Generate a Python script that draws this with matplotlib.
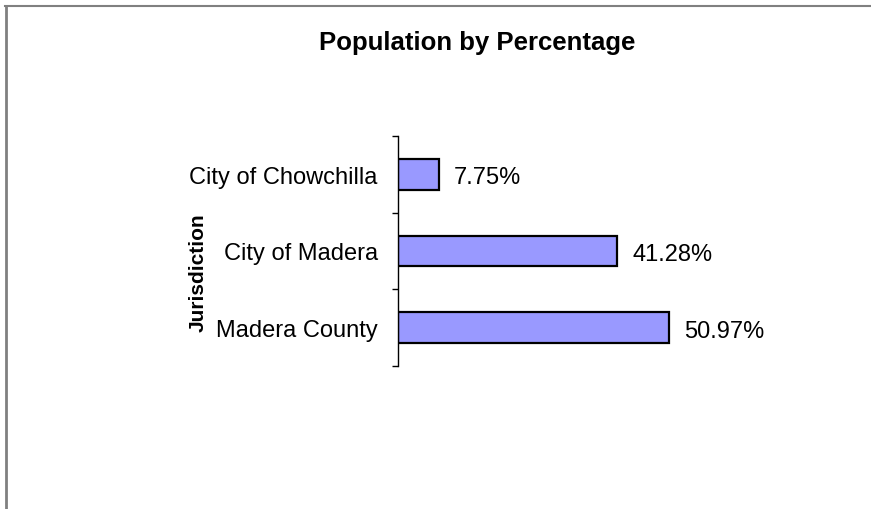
import matplotlib.pyplot as plt
from matplotlib.lines import Line2D

plt.rcParams['font.family'] = ['Liberation Sans', 'DejaVu Sans']

# data (bottom to top as drawn)
jurisdictions = ['Madera County', 'City of Madera', 'City of Chowchilla']
percentages = [50.97, 41.28, 7.75]
value_labels = ['50.97%', '41.28%', '7.75%']

fig = plt.figure(figsize=(8.71, 5.10), dpi=100)
ax = fig.add_axes([398 / 871, 1 - 367 / 510, (717 - 398) / 871, (367 - 137) / 510])

pos = list(range(len(jurisdictions)))
bars = ax.barh(pos, percentages, height=0.4, color='#9999FF',
               edgecolor='black', linewidth=1.6)

ax.set_xlim(0, 60)
ax.set_ylim(-0.5, len(jurisdictions) - 0.5)

# category labels at centres, tick marks at category boundaries
ax.set_yticks(pos)
ax.set_yticklabels(jurisdictions, fontsize=17)
ax.tick_params(axis='y', which='major', length=0, pad=14.5)
ax.set_yticks([p - 0.5 for p in pos] + [pos[-1] + 0.5], minor=True)
ax.tick_params(axis='y', which='minor', length=4.5, width=1, color='black')

ax.set_xticks([])
for side in ['top', 'right', 'bottom']:
    ax.spines[side].set_visible(False)
ax.spines['left'].set_linewidth(1)

# value labels
for bar, lab in zip(bars, value_labels):
    ax.annotate(lab, (bar.get_width(), bar.get_y() + bar.get_height() / 2),
                xytext=(15, -3), textcoords='offset pixels',
                va='center', ha='left', fontsize=17)

fig.text(477.5 / 871, 1 - 43 / 510, 'Population by Percentage',
         ha='center', va='center', fontsize=18.5, fontweight='bold')
fig.text(198 / 871, 1 - 273 / 510, 'Jurisdiction', rotation=90,
         ha='center', va='center', fontsize=15, fontweight='bold')

# chart border (top and left edges visible)
fig.add_artist(Line2D([5 / 871, 1], [1 - 6.5 / 510, 1 - 6.5 / 510],
                      transform=fig.transFigure, color='#808080', linewidth=1.5))
fig.add_artist(Line2D([5.5 / 871, 5.5 / 871], [0, 1 - 6.5 / 510],
                      transform=fig.transFigure, color='#808080', linewidth=2))

fig.savefig('out.png', dpi=100)
